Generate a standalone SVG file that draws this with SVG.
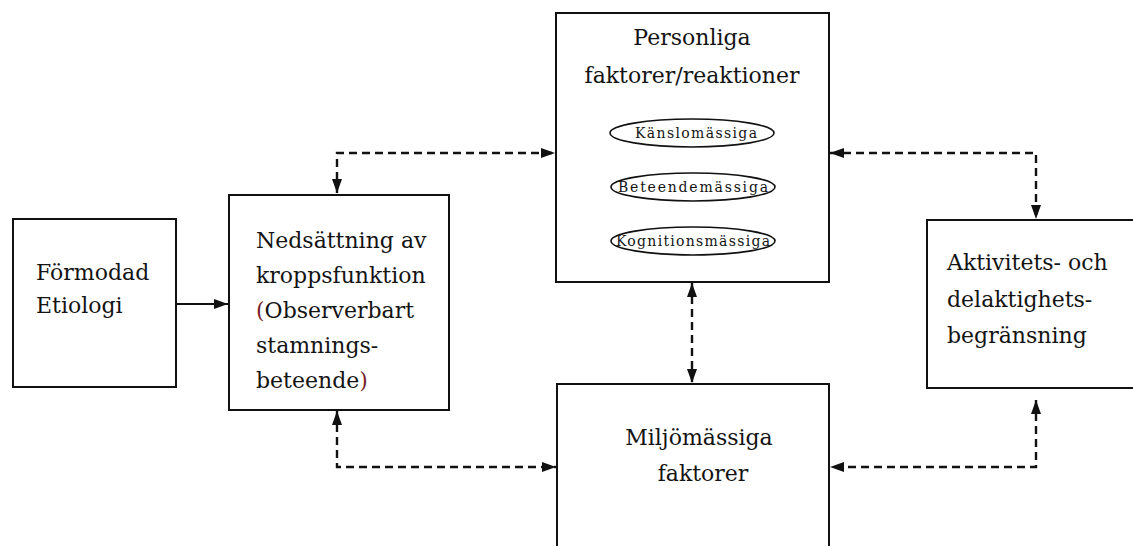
<svg xmlns="http://www.w3.org/2000/svg" width="1133" height="546" viewBox="0 0 1133 546">
  <style>
    .box { fill: #fff; stroke: #111; stroke-width: 2; }
    .lbl { font-family: "DejaVu Serif", "Liberation Serif", serif; font-size: 22px; fill: #141414; }
    .small { font-family: "DejaVu Serif", "Liberation Serif", serif; font-size: 14px; fill: #141414; }
    .ell { fill: #fff; stroke: #111; stroke-width: 1.6; }
    .dash { fill: none; stroke: #111; stroke-width: 2.4; stroke-dasharray: 8 5; }
    .solid { fill: none; stroke: #111; stroke-width: 2; }
    .red { fill: #7a1f2b; }
  </style>
  <defs>
    <marker id="arr" viewBox="0 0 14 10" refX="14" refY="5" markerWidth="14" markerHeight="10" markerUnits="userSpaceOnUse" orient="auto-start-reverse">
      <path d="M0,0 L14,5 L0,10 Z" fill="#111"/>
    </marker>
  </defs>
  <rect width="1133" height="546" fill="#fff"/>

  <g id="node-etiologi">
    <rect class="box" x="13" y="219" width="163" height="168"/>
    <text class="lbl" x="36" y="280">Förmodad</text>
    <text class="lbl" x="36" y="313">Etiologi</text>
  </g>

  <g id="node-nedsattning">
    <rect class="box" x="229" y="195" width="220" height="215"/>
    <text class="lbl" x="256" y="248">Nedsättning av</text>
    <text class="lbl" x="256" y="283">kroppsfunktion</text>
    <text class="lbl" x="256" y="318"><tspan class="red">(</tspan>Observerbart</text>
    <text class="lbl" x="256" y="353">stamnings-</text>
    <text class="lbl" x="256" y="388">beteende<tspan class="red">)</tspan></text>
  </g>

  <g id="node-personliga">
    <rect class="box" x="556" y="13" width="273" height="269"/>
    <text class="lbl" x="692" y="45" text-anchor="middle">Personliga</text>
    <text class="lbl" x="692" y="83" text-anchor="middle">faktorer/reaktioner</text>
    <ellipse class="ell" cx="692" cy="133" rx="82" ry="14"/>
    <text class="small" x="696" y="138" text-anchor="middle" textLength="122" lengthAdjust="spacing">Känslomässiga</text>
    <ellipse class="ell" cx="693" cy="187" rx="82" ry="14"/>
    <text class="small" x="693" y="192" text-anchor="middle" textLength="150" lengthAdjust="spacing">Beteendemässiga</text>
    <ellipse class="ell" cx="693" cy="241" rx="82" ry="14"/>
    <text class="small" x="693" y="246" text-anchor="middle" textLength="154" lengthAdjust="spacing">Kognitionsmässiga</text>
  </g>

  <g id="node-miljo">
    <rect class="box" x="557" y="384" width="272" height="170"/>
    <text class="lbl" x="699" y="445" text-anchor="middle">Miljömässiga</text>
    <text class="lbl" x="703" y="481" text-anchor="middle">faktorer</text>
  </g>

  <g id="node-aktivitet">
    <rect class="box" x="927" y="220" width="215" height="168"/>
    <text class="lbl" x="947" y="270">Aktivitets- och</text>
    <text class="lbl" x="947" y="307">delaktighets-</text>
    <text class="lbl" x="947" y="343">begränsning</text>
  </g>

  <g id="connectors">
    <path class="solid" d="M176,304 H228" marker-end="url(#arr)"/>
    <path class="dash" d="M337,193 V153 H555" marker-start="url(#arr)" marker-end="url(#arr)"/>
    <path class="dash" d="M830,153 H1036 V219" marker-start="url(#arr)" marker-end="url(#arr)"/>
    <path class="dash" d="M692,283 V383" marker-start="url(#arr)" marker-end="url(#arr)"/>
    <path class="dash" d="M337,411 V467 H556" marker-start="url(#arr)" marker-end="url(#arr)"/>
    <path class="dash" d="M1036,400 V467 H830" marker-start="url(#arr)" marker-end="url(#arr)"/>
  </g>
</svg>
